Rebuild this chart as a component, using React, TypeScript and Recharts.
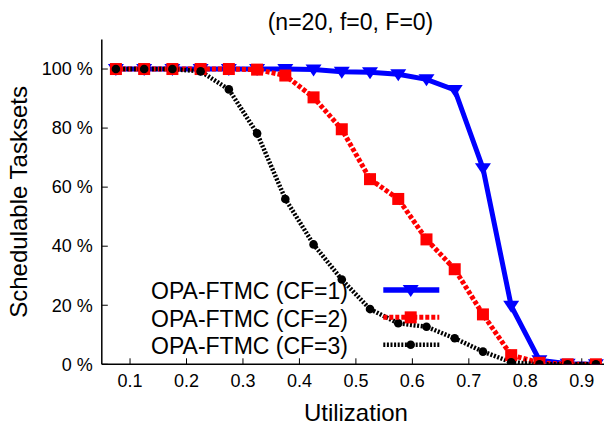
import React from 'react';
import { LineChart, Line, XAxis, YAxis, Legend } from 'recharts';

const utilization = [0.075, 0.125, 0.175, 0.225, 0.275, 0.325, 0.375, 0.425, 0.475, 0.525, 0.575, 0.625, 0.675, 0.725, 0.775, 0.825, 0.875, 0.925];
const cf1 = [100, 100, 100, 100, 100, 100, 100, 99.8, 99.1, 98.9, 98.2, 96.5, 92.9, 66.4, 19.8, 1.4, 0.2, 0];
const cf2 = [100, 100, 100, 100, 100, 99.8, 97.8, 90.4, 79.6, 62.7, 56.0, 42.3, 32.2, 16.9, 3.1, 0.5, 0, 0];
const cf3 = [100, 100, 100, 99.2, 93.1, 78.2, 56.0, 40.6, 28.7, 18.7, 13.9, 12.7, 8.8, 4.3, 0.7, 0, 0, 0];
const xTicks = [0.1, 0.2, 0.3, 0.4, 0.5, 0.6, 0.7, 0.8, 0.9];
const yTicks = [0, 20, 40, 60, 80, 100];
const seriesNames = ['OPA-FTMC (CF=1)', 'OPA-FTMC (CF=2)', 'OPA-FTMC (CF=3)'];
const title = '(n=20, f=0, F=0)';

const data = utilization.map((u, i) => ({ u, cf1: cf1[i], cf2: cf2[i], cf3: cf3[i] }));

const FONT = '"Liberation Sans", Arial, Helvetica, sans-serif';

const Tri = (props: any) => {
  const { cx, cy } = props;
  if (cx == null || cy == null) return null;
  return <path d={`M${cx - 8},${cy - 5}L${cx + 8},${cy - 5}L${cx},${cy + 7}Z`} fill="#0000ff" />;
};
const Sq = (props: any) => {
  const { cx, cy } = props;
  if (cx == null || cy == null) return null;
  return <rect x={cx - 6} y={cy - 6} width={12} height={12} fill="#ff0000" />;
};
const Circ = (props: any) => {
  const { cx, cy } = props;
  if (cx == null || cy == null) return null;
  return <circle cx={cx} cy={cy} r={4.3} fill="#000" />;
};

const LeftTick = (props: any) => {
  const { x, y, payload } = props;
  return (
    <g>
      <line x1={x + 9} x2={x + 15} y1={y} y2={y} stroke="#000" strokeWidth={1} />
      <text x={x} y={y} dy="0.35em" textAnchor="end" fontSize={18} fill="#000">{`${payload.value} %`}</text>
    </g>
  );
};
const BottomTick = (props: any) => {
  const { x, y, payload } = props;
  return (
    <g>
      <line x1={x} x2={x} y1={y - 9.6} y2={y - 15.6} stroke="#000" strokeWidth={1} />
      <text x={x} y={y} dy="0.71em" textAnchor="middle" fontSize={18} fill="#000">{payload.value}</text>
    </g>
  );
};
const TopTick = (props: any) => {
  const { x, y } = props;
  return <line x1={x} x2={x} y1={y} y2={y + 6} stroke="#000" strokeWidth={1} />;
};
const RightTick = (props: any) => {
  const { x, y } = props;
  return <line x1={x} x2={x - 6} y1={y} y2={y} stroke="#000" strokeWidth={1} />;
};

const Overlay = () => {
  const rows = [
    { color: '#0000ff', dash: undefined, width: 5.5, marker: 'tri' },
    { color: '#ff0000', dash: '4 2', width: 5, marker: 'sq' },
    { color: '#000000', dash: '2 1.6', width: 4.5, marker: 'circ' },
  ];
  return (
    <svg width={604} height={426} style={{ fontFamily: FONT }}>
      <text x={350.5} y={30} textAnchor="middle" fontSize={23} fill="#000">{title}</text>
      {rows.map((r, i) => {
        const base = 299.3 + i * 27.35;
        const ly = base - 9.3;
        return (
          <g key={i}>
            <text x={348} y={base} textAnchor="end" fontSize={23} fill="#000">{seriesNames[i]}</text>
            <line x1={383.3} x2={439.3} y1={ly} y2={ly} stroke={r.color} strokeWidth={r.width} strokeDasharray={r.dash} />
            {r.marker === 'tri' && <Tri cx={410.7} cy={ly} />}
            {r.marker === 'sq' && <Sq cx={410.7} cy={ly} />}
            {r.marker === 'circ' && <Circ cx={410.7} cy={ly} />}
          </g>
        );
      })}
    </svg>
  );
};

export default function App() {
  return (
    <div style={{ position: 'absolute', left: 0, top: 0, width: 604, height: 426, overflow: 'hidden', background: '#fff', fontFamily: FONT }}>
      <LineChart width={612} height={426} data={data} margin={{ top: 39.5, right: 2, left: 0, bottom: 0 }}>
        <XAxis
          dataKey="u"
          type="number"
          domain={[0.05, 0.95]}
          ticks={xTicks}
          allowDataOverflow
          height={61.7}
          tickSize={0}
          tickMargin={9.6}
          tickLine={false}
          tick={<BottomTick />}
          axisLine={{ stroke: '#000', strokeWidth: 1.5 }}
          interval={0}
          label={{ value: 'Utilization', position: 'insideBottom', offset: 5, fontSize: 24, fill: '#000' }}
        />
        <XAxis
          xAxisId="t"
          orientation="top"
          dataKey="u"
          type="number"
          domain={[0.05, 0.95]}
          ticks={xTicks}
          allowDataOverflow
          height={0}
          tickSize={0}
          tickMargin={0}
          tickLine={false}
          tick={<TopTick />}
          interval={0}
          axisLine={{ stroke: '#000', strokeWidth: 1.5 }}
        />
        <YAxis
          type="number"
          domain={[0, 110]}
          ticks={yTicks}
          allowDataOverflow
          width={101.8}
          tickSize={0}
          tickMargin={9}
          tickLine={false}
          tick={<LeftTick />}
          interval={0}
          axisLine={{ stroke: '#000', strokeWidth: 1.5 }}
          label={{ value: 'Schedulable Tasksets', angle: -90, position: 'insideLeft', offset: 18.2, fontSize: 24, fill: '#000', style: { textAnchor: 'middle' } }}
        />
        <YAxis
          yAxisId="r"
          orientation="right"
          type="number"
          domain={[0, 110]}
          ticks={yTicks}
          allowDataOverflow
          width={0}
          tickSize={0}
          tickMargin={0}
          tickLine={false}
          tick={<RightTick />}
          interval={0}
          axisLine={{ stroke: '#000', strokeWidth: 1.5 }}
        />
        <Line dataKey="cf1" stroke="#0000ff" strokeWidth={5} dot={<Tri />} activeDot={false} isAnimationActive={false} />
        <Line dataKey="cf2" stroke="#ff0000" strokeWidth={5} strokeDasharray="4 2" dot={<Sq />} activeDot={false} isAnimationActive={false} />
        <Line dataKey="cf3" stroke="#000000" strokeWidth={4.5} strokeDasharray="2 1.6" dot={<Circ />} activeDot={false} isAnimationActive={false} />
        <Legend
          layout="vertical"
          align="center"
          verticalAlign="middle"
          content={() => <Overlay />}
          wrapperStyle={{ left: 0, top: 0, width: 604, height: 426, pointerEvents: 'none' }}
        />
      </LineChart>
    </div>
  );
}
